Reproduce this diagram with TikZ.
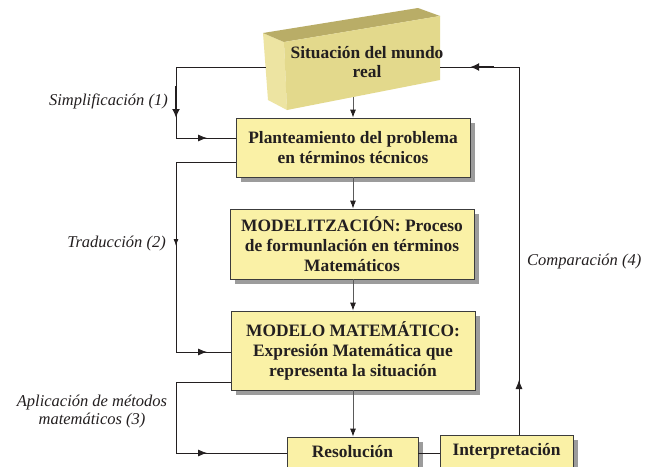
\documentclass[tikz,border=0pt]{standalone}
\usepackage{fontspec}
\setmainfont{Liberation Serif}
\usetikzlibrary{arrows.meta,shadows,decorations.markings}
\definecolor{boxfill}{HTML}{FAF1A6}
\definecolor{boxline}{HTML}{3C3C3C}
\definecolor{shad}{HTML}{9C9C9C}
\definecolor{ink}{HTML}{231F20}
\definecolor{topface}{HTML}{B9AD67}
\definecolor{frontface}{HTML}{E3D98C}
\definecolor{sideface}{HTML}{EDE4A2}
\definecolor{midgray}{HTML}{5A5A5A}
\begin{document}
\begin{tikzpicture}[x=1pt,y=-1pt,
  procbox/.style={draw=boxline, line width=0.8pt, fill=boxfill, text=ink,
    font=\fontsize{17.4}{20}\selectfont\bfseries, align=center, inner sep=0pt,
    drop shadow={shadow xshift=5pt, shadow yshift=-5pt, fill=shad, opacity=1}},
  lbl/.style={font=\fontsize{16.5}{18}\selectfont\itshape, text=ink, inner sep=0pt},
  ln/.style={draw=ink, line width=0.8pt},
  midarr/.style={postaction={decorate}, decoration={markings,
    mark=at position #1 with {\arrow{Latex[length=9pt,width=7pt]}}}},
  smallarr/.style={postaction={decorate}, decoration={markings,
    mark=at position #1 with {\arrow{Latex[length=7pt,width=5pt]}}}},
  carr/.style={draw=midgray, line width=0.8pt, -{Latex[length=8pt,width=6pt,color=ink]}},
  boldarr/.style={draw=ink, line width=2pt, -{Latex[length=9pt,width=8pt]}}
]
\clip (0,0) rectangle (656,466);
\fill[white] (0,0) rectangle (656,466);

% 3D block "Situacion del mundo real"
\fill[sideface] (263,33) -- (284,42) -- (287,110) -- (268,100) -- cycle;
\fill[topface] (263,33) -- (418,8) -- (440,16) -- (284,42) -- cycle;
\fill[frontface] (284,42) -- (440,16) -- (440,80) -- (287,110) -- cycle;
\node[text=ink, font=\fontsize{17.4}{19}\selectfont\bfseries, align=center, inner sep=0pt]
  (real) at (367,62) {Situación del mundo\\real};
\coordinate (rwL) at (265.5,67);
\coordinate (rwR) at (440,67);
\coordinate (rwB) at (353,97);

% process boxes
\node[procbox, minimum width=234pt, minimum height=59pt] (plan) at (353,147.5)
  {Planteamiento del problema\\en términos técnicos};
\node[procbox, minimum width=244pt, minimum height=70pt] (modz) at (352,244)
  {MODELITZACIÓN: Proceso\\de formunlación en términos\\Matemáticos};
\node[procbox, minimum width=244pt, minimum height=79pt] (modm) at (353,350.5)
  {MODELO MATEMÁTICO:\\Expresión Matemática que\\representa la situación};
\node[procbox, minimum width=131pt, minimum height=30pt] (reso) at (352.5,452)
  {Resolución};
\node[procbox, minimum width=133pt, minimum height=32pt] (interp) at (506.5,451)
  {Interpretación};

% central arrows
\draw[carr] (rwB) -- (rwB |- plan.north);
\draw[carr] (plan.south -| rwB) -- (modz.north -| rwB);
\draw[carr] (modz.south -| rwB) -- (modm.north -| rwB);
\draw[carr] (modm.south -| rwB) -- (reso.north -| rwB);

% Simplificacion (1)
\coordinate (s1) at (176,67);
\coordinate (s2) at (176,138);
\coordinate (sa) at (176,86);
\coordinate (sb) at (176,118);
\draw[ln] (rwL) -- (s1) -- (s2);
\draw[ln, midarr=31pt] (s2) -- (s2 -| plan.west);
\draw[boldarr] (sa) -- (sb);
\node[lbl, anchor=east] (l1) at (168,101) {Simplificación (1)};

% Traduccion (2)
\coordinate (t0) at (236,162);
\coordinate (t1) at (176,162);
\coordinate (t2) at (176,352);
\draw[ln] (t0) -- (t1);
\draw[ln, smallarr=84pt] (t1) -- (t2);
\draw[ln, midarr=31pt] (t2) -- (t2 -| modm.west);
\node[lbl, anchor=east] (l2) at (166,244) {Traducción (2)};

% Aplicacion de metodos matematicos (3)
\coordinate (a0) at (231,382);
\coordinate (a1) at (176,382);
\coordinate (a2) at (176,453);
\draw[ln] (a0) -- (a1) -- (a2);
\draw[ln, midarr=31pt] (a2) -- (a2 -| reso.west);
\node[lbl, align=center] (l3) at (92,412) {Aplicación de métodos\\matemáticos (3)};

% Resolucion -- Interpretacion
\draw[ln] (reso.east |- a2) -- (interp.west |- a2);

% Comparacion (4)
\coordinate (c0) at (519,435);
\coordinate (c1) at (519,67);
\coordinate (ca) at (494,67);
\coordinate (cb) at (470,67);
\draw[ln, midarr=55pt] (c0) -- (c1);
\draw[ln] (c1) -- (rwR);
\draw[boldarr] (ca) -- (cb);
\node[lbl, anchor=west] (l4) at (527,262) {Comparación (4)};
\end{tikzpicture}
\end{document}
